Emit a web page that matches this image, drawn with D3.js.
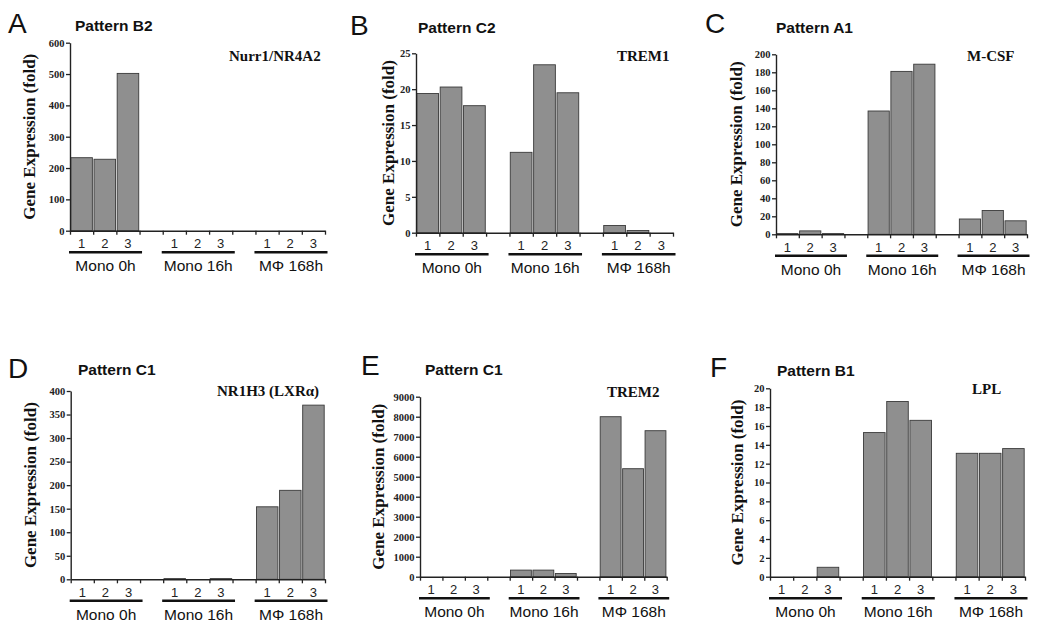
<!DOCTYPE html>
<html>
<head>
<meta charset="utf-8">
<script src="https://cdn.jsdelivr.net/npm/d3@7/dist/d3.min.js"></script>
<style>
  html, body { margin: 0; padding: 0; background: #fff; }
  svg { display: block; }
</style>
</head>
<body>
<svg id="chart" width="1050" height="630"></svg>
<script>
// ---------------- DATA ----------------
const groups = ["Mono 0h", "Mono 16h", "M\u03A6 168h"];
const replicates = ["1", "2", "3"];
const panelLetters = ["A", "B", "C", "D", "E", "F"];
const patternTitles = ["Pattern B2", "Pattern C2", "Pattern A1", "Pattern C1", "Pattern C1", "Pattern B1"];
const geneNames = ["Nurr1/NR4A2", "TREM1", "M-CSF", "NR1H3 (LXR\u03B1)", "TREM2", "LPL"];
const yAxisTitle = "Gene Expression (fold)";

// values: Mono 0h (1,2,3), Mono 16h (1,2,3), MΦ 168h (1,2,3)
const valuesA = [233, 228, 502, 0, 0, 0, 0, 0, 0];
const valuesB = [19.4, 20.3, 17.7, 11.2, 23.4, 19.5, 1.0, 0.3, 0];
const valuesC = [0.8, 3.8, 0.8, 137, 181, 189, 17, 26.5, 15];
const valuesD = [0, 0, 0, 1.5, 0, 1.5, 154, 189, 370];
const valuesE = [0, 0, 0, 330, 330, 160, 8000, 5400, 7300];
const valuesF = [0, 0, 1.0, 15.3, 18.6, 16.6, 13.1, 13.1, 13.6];
const allValues = [valuesA, valuesB, valuesC, valuesD, valuesE, valuesF];

const yMax = [600, 25, 200, 400, 9000, 20];
const yStep = [100, 5, 20, 50, 1000, 2];

// ---------------- LAYOUT ----------------
const layout = [
  {x0: 70,  x1: 325,  yTop: 42.7,  y0: 230.7, letter: [8, 33],    title: [75, 30.7],  gene: [229, 61],   ylab: 35},
  {x0: 416, x1: 673,  yTop: 53.3,  y0: 232.7, letter: [350, 35],  title: [418, 32.7], gene: [617, 60.7], ylab: 394},
  {x0: 776, x1: 1027, yTop: 54.3,  y0: 234.3, letter: [705, 33.3],title: [776, 33],   gene: [967, 61],   ylab: 742},
  {x0: 70.7,x1: 325,  yTop: 391,   y0: 579.3, letter: [8, 378],   title: [78, 375],   gene: [217, 395.5],ylab: 36},
  {x0: 420, x1: 666.7,yTop: 396.7, y0: 576.7, letter: [361, 375], title: [425, 375],  gene: [607, 397],  ylab: 384},
  {x0: 770, x1: 1025, yTop: 388.3, y0: 576.7, letter: [710, 377], title: [777, 376],  gene: [972, 394],  ylab: 743}
];

const SANS = "'Liberation Sans', Arial, Helvetica, sans-serif";
const SERIF = "'Liberation Serif', 'Times New Roman', serif";
const AXIS_COLOR = "#222";
const BAR_FILL = "#8f8f8f";
const BAR_STROKE = "#3a3a3a";

const svg = d3.select("#chart");

// slot keys: 3 groups x 3 replicates with an empty slot between groups
const slotKeys = [];
groups.forEach((g, gi) => {
  replicates.forEach(r => slotKeys.push(g + "|" + r));
  if (gi < groups.length - 1) slotKeys.push("gap" + gi);
});

allValues.forEach((vals, pi) => {
  const L = layout[pi];
  const g = svg.append("g");

  const x = d3.scaleBand().domain(slotKeys).range([L.x0, L.x1]).paddingInner(0.07).paddingOuter(0.035);
  const slotLin = d3.scaleLinear().domain([0, slotKeys.length]).range([L.x0, L.x1]);
  const y = d3.scaleLinear().domain([0, yMax[pi]]).range([L.y0, L.yTop]);

  const data = [];
  groups.forEach((grp, gi) => replicates.forEach((r, ri) => {
    data.push({key: grp + "|" + r, rep: r, value: vals[gi * 3 + ri]});
  }));

  // bars
  g.selectAll("rect.bar").data(data.filter(d => d.value > 0)).join("rect")
    .attr("class", "bar")
    .attr("x", d => x(d.key))
    .attr("width", x.bandwidth())
    .attr("y", d => y(d.value))
    .attr("height", d => y(0) - y(d.value))
    .attr("fill", BAR_FILL)
    .attr("stroke", BAR_STROKE)
    .attr("stroke-width", 0.9);

  // y axis
  const yTicks = d3.range(0, yMax[pi] + yStep[pi] / 2, yStep[pi]);
  const yAxis = g.append("g")
    .attr("transform", `translate(${L.x0},0)`)
    .call(d3.axisLeft(y).tickValues(yTicks).tickSize(4).tickSizeOuter(0).tickPadding(1.5).tickFormat(d3.format("d")));
  yAxis.select(".domain").attr("stroke", AXIS_COLOR).attr("stroke-width", 1.4);
  yAxis.selectAll(".tick line").attr("stroke", AXIS_COLOR).attr("stroke-width", 1.3);
  yAxis.selectAll(".tick text")
    .attr("font-family", SERIF).attr("font-size", 10.5).attr("font-weight", "bold").attr("fill", "#222");

  // x axis with tick marks at slot boundaries
  const xAxis = g.append("g")
    .attr("transform", `translate(0,${L.y0})`)
    .call(d3.axisBottom(slotLin).tickValues(d3.range(0, slotKeys.length + 1)).tickSize(4).tickSizeOuter(0).tickFormat(""));
  xAxis.select(".domain").attr("stroke", AXIS_COLOR).attr("stroke-width", 1.4);
  xAxis.selectAll(".tick line").attr("stroke", AXIS_COLOR).attr("stroke-width", 1.3);

  // replicate labels
  g.selectAll("text.rep").data(data).join("text")
    .attr("class", "rep")
    .attr("x", d => x(d.key) + x.bandwidth() / 2)
    .attr("y", L.y0 + 17.5)
    .attr("text-anchor", "middle")
    .attr("font-family", SANS).attr("font-size", 13).attr("fill", "#222")
    .text(d => d.rep);

  // group underlines and labels
  groups.forEach((grp, gi) => {
    const s = slotLin(gi * 4) - 1;
    const e = slotLin(gi * 4 + 3) + 2.5;
    g.append("line")
      .attr("x1", s).attr("x2", e)
      .attr("y1", L.y0 + 21.5).attr("y2", L.y0 + 21.5)
      .attr("stroke", "#111").attr("stroke-width", 2.6);
    g.append("text")
      .attr("x", (s + e) / 2)
      .attr("y", L.y0 + 40.5)
      .attr("text-anchor", "middle")
      .attr("font-family", SANS).attr("font-size", 15.5).attr("fill", "#111")
      .text(grp);
  });

  // y axis title
  g.append("text")
    .attr("transform", `translate(${L.ylab},${(L.yTop + L.y0) / 2}) rotate(-90)`)
    .attr("text-anchor", "middle")
    .attr("font-family", SERIF).attr("font-size", 17).attr("font-weight", "bold").attr("fill", "#111")
    .text(yAxisTitle);

  // panel letter
  g.append("text")
    .attr("x", L.letter[0]).attr("y", L.letter[1])
    .attr("font-family", SANS).attr("font-size", 28).attr("fill", "#111")
    .text(panelLetters[pi]);

  // pattern title
  g.append("text")
    .attr("x", L.title[0]).attr("y", L.title[1])
    .attr("font-family", SANS).attr("font-size", 15.5).attr("font-weight", "bold").attr("fill", "#111")
    .text(patternTitles[pi]);

  // gene name
  g.append("text")
    .attr("x", L.gene[0]).attr("y", L.gene[1])
    .attr("font-family", SERIF).attr("font-size", 15).attr("font-weight", "bold").attr("fill", "#111")
    .text(geneNames[pi]);
});
</script>
</body>
</html>
